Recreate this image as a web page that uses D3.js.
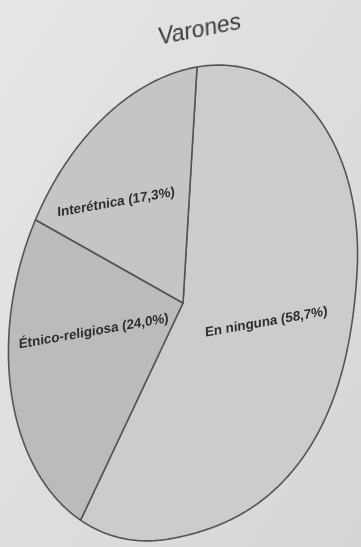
<!DOCTYPE html>
<html>
<head>
<meta charset="utf-8">
<script src="https://cdn.jsdelivr.net/npm/d3@7"></script>
<style>
  html, body { margin: 0; padding: 0; background: #dedede; }
  svg { display: block; }
</style>
</head>
<body>
<svg id="chart" width="361" height="547"></svg>
<script>
const categories = ["En ninguna", "Étnico-religiosa", "Interétnica"];
const values = [58.7, 24.0, 17.3];
const valueLabels = ["58,7%", "24,0%", "17,3%"];
const fills = ["#cccccc", "#bbbbbb", "#c5c5c5"];
const title = "Varones";

// label placement relative to each slice centroid (screen px)
const labelShift = [[-7, -1], [5, -23], [-24, 1]];

const W = 361, H = 547;
const svg = d3.select("#chart");

const defs = svg.append("defs");
const bg = defs.append("linearGradient").attr("id", "paper")
  .attr("x1", "0").attr("y1", "0").attr("x2", "1").attr("y2", "1");
bg.append("stop").attr("offset", "0").attr("stop-color", "#e6e6e6");
bg.append("stop").attr("offset", "0.5").attr("stop-color", "#dedede");
bg.append("stop").attr("offset", "1").attr("stop-color", "#d6d6d6");
defs.append("filter").attr("id", "soft")
  .append("feGaussianBlur").attr("stdDeviation", 0.7);

svg.append("rect").attr("width", W).attr("height", H).attr("fill", "url(#paper)");
const root = svg.append("g").attr("filter", "url(#soft)");

// page seen at an angle and gently curled: tilt matrix plus a soft bulge
// towards the lower-right quarter of the disc
const R = 100;
const cx = 183, cy = 303;
const A = [1.74, -0.14, -0.30, 2.36];
const bulge = 0.06;
function project([x, y]) {
  const u = Math.max(x, 0) / R, v = Math.max(y, 0) / R;
  const k = 1 + bulge * 4 * u * u * v * v;
  return [cx + k * (A[0] * x + A[1] * y), cy + k * (A[2] * x + A[3] * y)];
}

const pie = d3.pie().sort(null).value(d => d);
const arcs = pie(values);
const labelArc = d3.arc().innerRadius(0).outerRadius(R * 1.1);

// slice outline in disc coordinates, sampled finely then projected
function slicePath(d) {
  const pts = [[0, 0]];
  const n = Math.max(8, Math.ceil((d.endAngle - d.startAngle) / 0.01));
  for (let j = 0; j <= n; j++) {
    const t = d.startAngle + (d.endAngle - d.startAngle) * j / n;
    pts.push([R * Math.sin(t), -R * Math.cos(t)]);
  }
  return d3.line()(pts.map(project)) + "Z";
}

root.selectAll("path.slice")
  .data(arcs)
  .join("path")
  .attr("class", "slice")
  .attr("d", slicePath)
  .attr("fill", (d, i) => fills[i])
  .attr("stroke", "#555")
  .attr("stroke-width", 1.6)
  .attr("stroke-linejoin", "round");

root.selectAll("text.lbl")
  .data(arcs)
  .join("text")
  .attr("class", "lbl")
  .attr("transform", (d, i) => {
    const [x, y] = project(labelArc.centroid(d));
    return `translate(${x + labelShift[i][0]},${y + labelShift[i][1]}) rotate(-10) skewX(-8)`;
  })
  .attr("text-anchor", "middle")
  .attr("dy", "0.35em")
  .attr("font-family", "'Liberation Sans', Arial, sans-serif")
  .attr("font-weight", "bold")
  .attr("font-size", 13.5)
  .attr("fill", "#2e2e2e")
  .text((d, i) => `${categories[i]} (${valueLabels[i]})`);

root.append("text")
  .attr("transform", "translate(200,37) rotate(-11) skewX(-8)")
  .attr("text-anchor", "middle")
  .attr("font-family", "'Liberation Sans', Arial, sans-serif")
  .attr("font-size", 23)
  .attr("fill", "#3a3a3a")
  .text(title);
</script>
</body>
</html>
